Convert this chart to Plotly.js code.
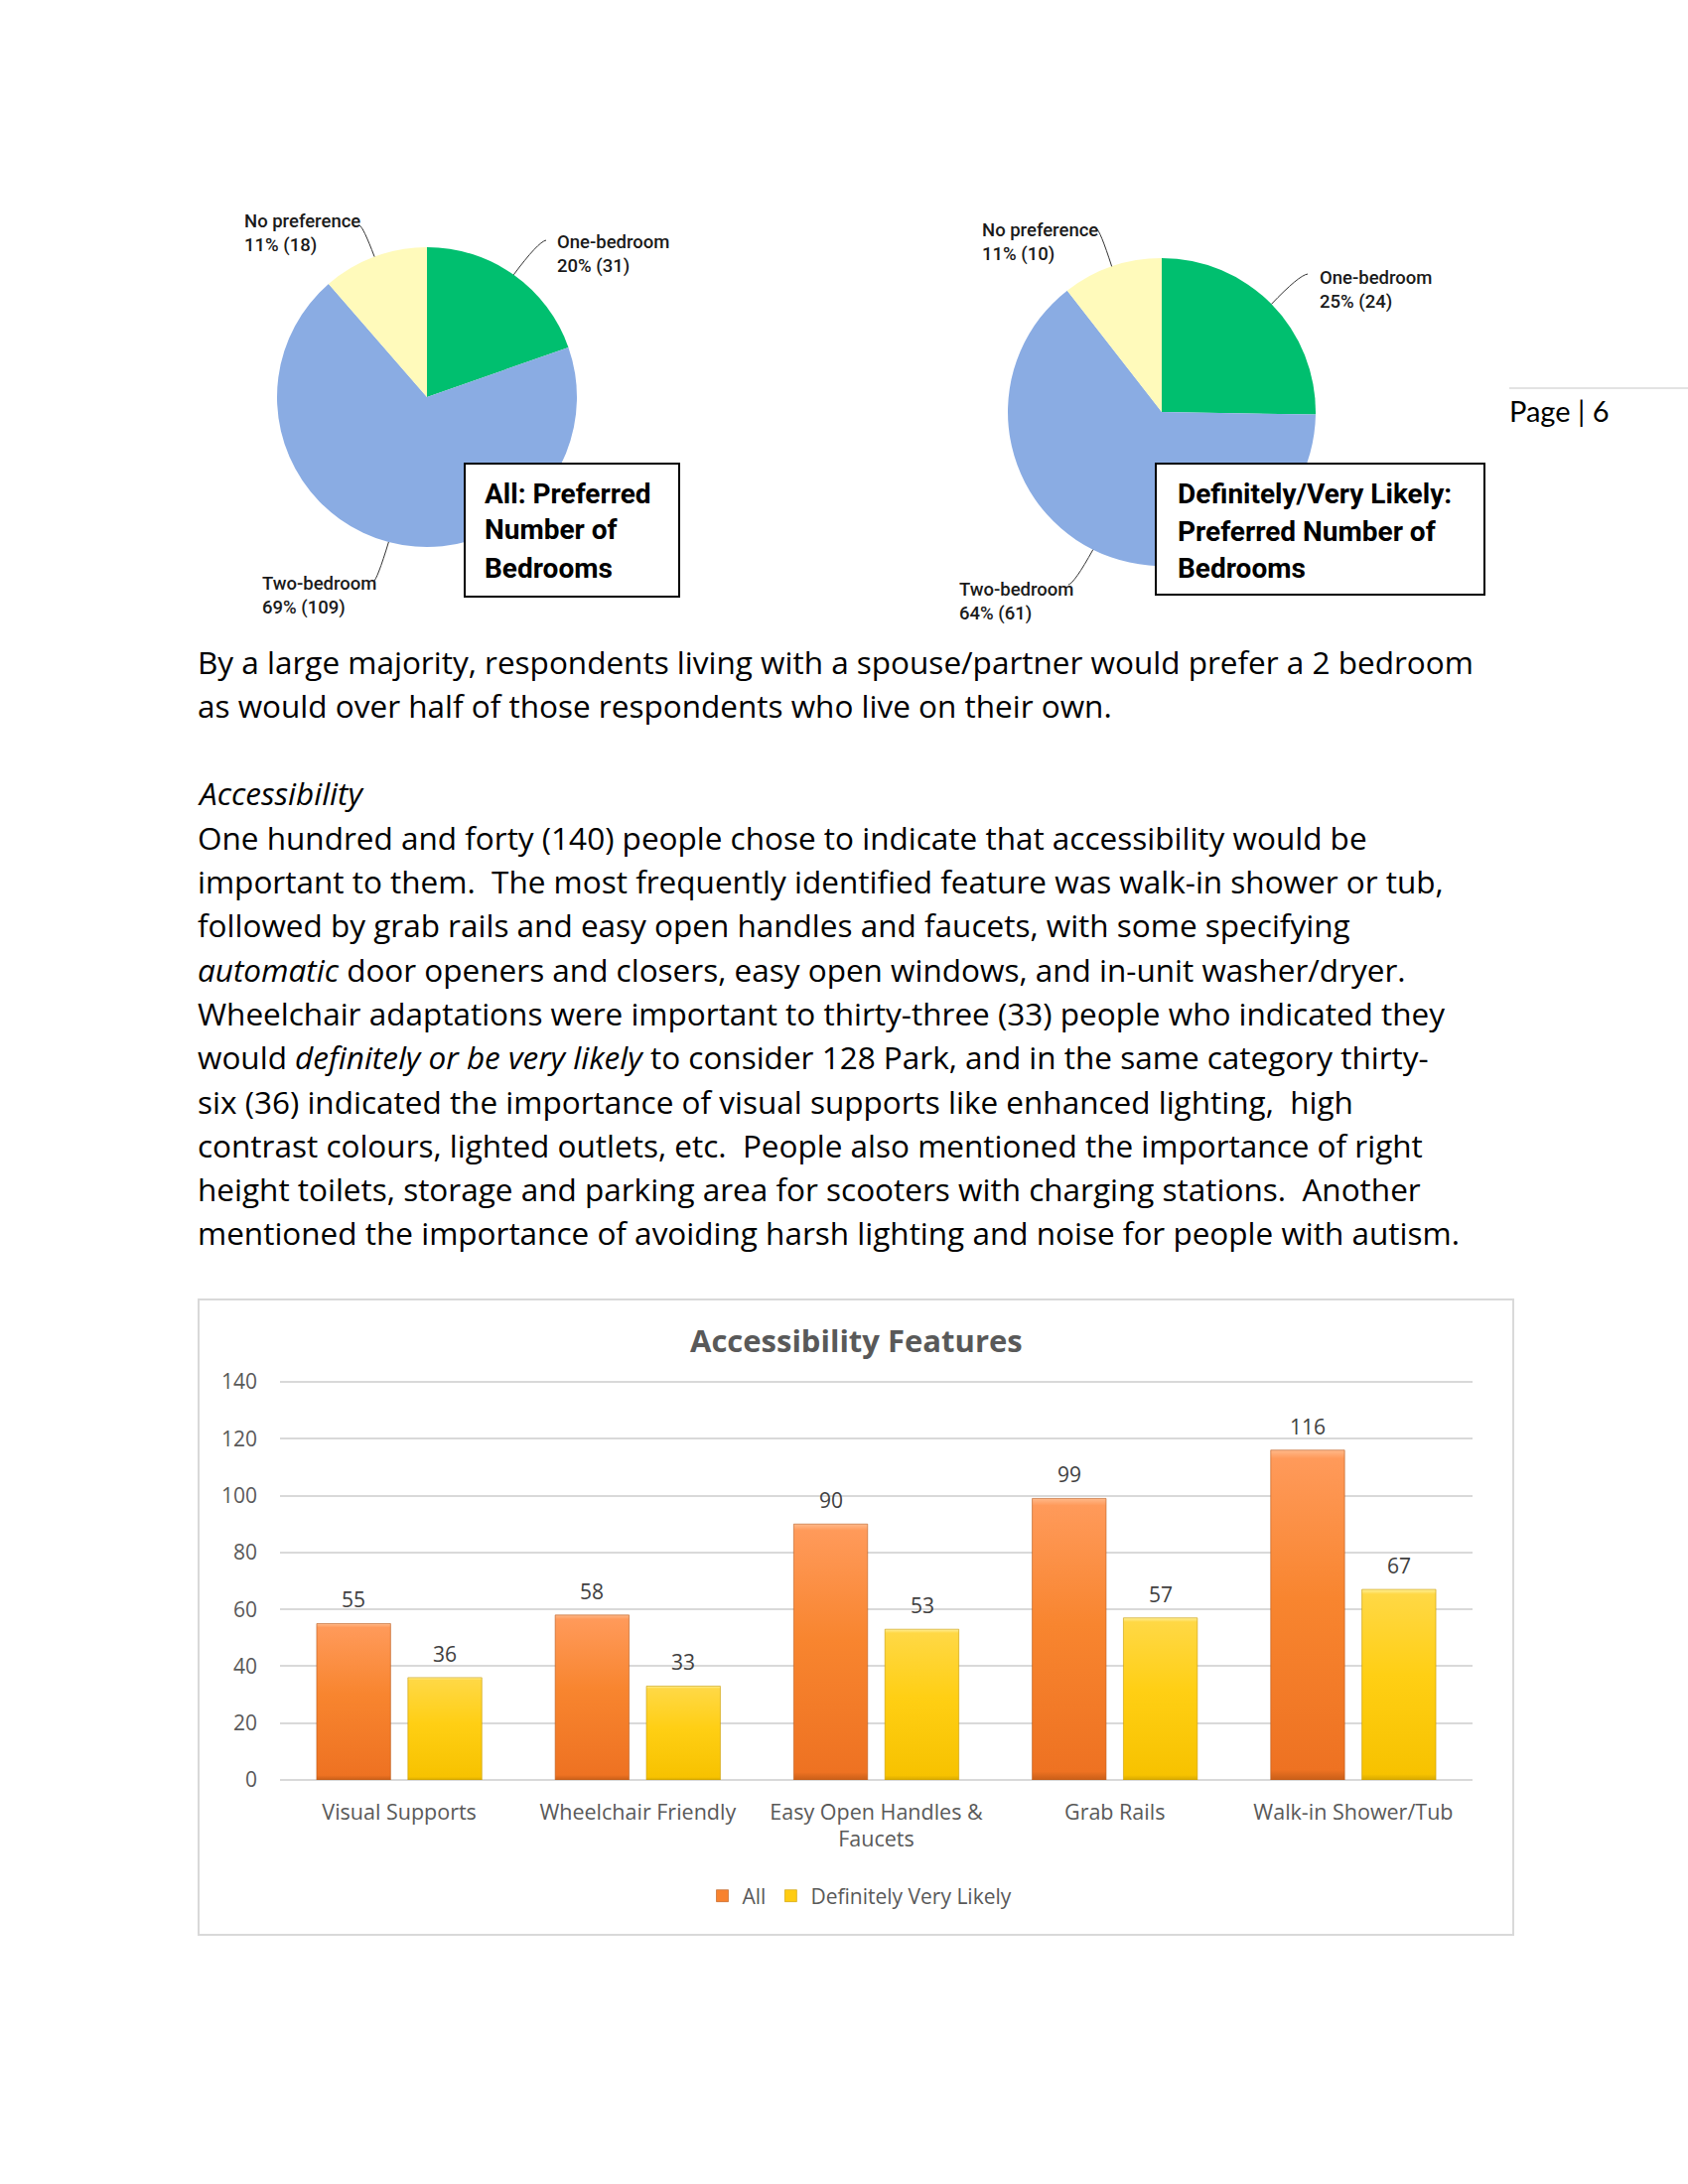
<!DOCTYPE html>
<html>
<head>
<meta charset="utf-8">
<script src="https://cdn.plot.ly/plotly-3.0.1.min.js"></script>
<style>
  html, body { margin: 0; padding: 0; background: #ffffff; }
  #page { width: 1700px; height: 2200px; }
</style>
</head>
<body>
<div id="page"></div>
<script>
// ---------------- DATA ----------------
const pieLabels = ['One-bedroom', 'Two-bedroom', 'No preference'];
const pieAllValues = [31, 109, 18];
const pieLikelyValues = [24, 61, 10];
const pieColors = ['#00BF6F', '#8AACE3', '#FFFABB'];
const pieTitleAll = ['All: Preferred', 'Number of', 'Bedrooms'];
const pieTitleLikely = ['Definitely/Very Likely:', 'Preferred Number of', 'Bedrooms'];

const categories = ['Visual Supports', 'Wheelchair Friendly', 'Easy Open Handles &<br>Faucets', 'Grab Rails', 'Walk-in Shower/Tub'];
const allValues = [55, 58, 90, 99, 116];
const likelyValues = [36, 33, 53, 57, 67];
const seriesNames = ['All', 'Definitely Very Likely'];
const yTickValues = [0, 20, 40, 60, 80, 100, 120, 140];
const barTitle = 'Accessibility Features';

const bodyLines = [
  'By a large majority, respondents living with a spouse/partner would prefer a 2 bedroom',
  'as would over half of those respondents who live on their own.',
  '',
  '<i>Accessibility</i>',
  'One hundred and forty (140) people chose to indicate that accessibility would be',
  'important to them.\u00A0 The most frequently identified feature was walk-in shower or tub,',
  'followed by grab rails and easy open handles and faucets, with some specifying',
  '<i>automatic</i> door openers and closers, easy open windows, and in-unit washer/dryer.',
  'Wheelchair adaptations were important to thirty-three (33) people who indicated they',
  'would <i>definitely or be very likely</i> to consider 128 Park, and in the same category thirty-',
  'six (36) indicated the importance of visual supports like enhanced lighting,\u00A0 high',
  'contrast colours, lighted outlets, etc.\u00A0 People also mentioned the importance of right',
  'height toilets, storage and parking area for scooters with charging stations.\u00A0 Another',
  'mentioned the importance of avoiding harsh lighting and noise for people with autism.'
];
const pageLabel = 'Page | 6';

// ---------------- LAYOUT HELPERS ----------------
const W = 1700, H = 2200;
const px = x => x / W;
const py = y => (H - y) / H;

const pieSpecs = [
  { values: pieAllValues, cx: 430, cy: 400, r: 151,
    labelAt: [[559, 256], [262, 600], [244, 235]],
    leaderEnd: [[550, 242], [376, 586], [362, 227]],
    box: [468, 467, 684, 601], title: pieTitleAll, titleX: 486, titleY: [497, 534, 572] },
  { values: pieLikelyValues, cx: 1170, cy: 415, r: 155,
    labelAt: [[1327, 292], [964, 606], [987, 244]],
    leaderEnd: [[1317, 276], [1076, 589], [1104, 230]],
    box: [1164, 467, 1495, 599], title: pieTitleLikely, titleX: 1184, titleY: [498, 535, 572] }
];

const traces = [];
const annotations = [];
const shapes = [];

const labelFont = { family: 'Roboto, "Liberation Sans", sans-serif', size: 18.5, color: '#1a1a1a', weight: 500 };
const boxFont = { family: 'Roboto, "Liberation Sans", sans-serif', size: 28, color: '#000000', weight: 'bold' };

pieSpecs.forEach(spec => {
  traces.push({
    type: 'pie', values: spec.values, labels: pieLabels, sort: false,
    direction: 'clockwise', rotation: 0, textinfo: 'none', hoverinfo: 'none',
    showlegend: false, marker: { colors: pieColors, line: { width: 0 } },
    domain: { x: [px(spec.cx - spec.r), px(spec.cx + spec.r)], y: [py(spec.cy + spec.r), py(spec.cy - spec.r)] }
  });
  const total = spec.values.reduce((a, b) => a + b, 0);
  let cum = 0;
  spec.values.forEach((v, i) => {
    const theta = 2 * Math.PI * (cum + v / 2) / total;
    cum += v;
    const ex = spec.cx + spec.r * Math.sin(theta);
    const ey = spec.cy - spec.r * Math.cos(theta);
    const [lx, ly] = spec.leaderEnd[i];
    const cxp = ex + 0.75 * (lx - ex), cyp = ey + 0.95 * (ly - ey);
    shapes.push({ type: 'path', xref: 'paper', yref: 'paper',
      path: `M ${px(ex)} ${py(ey)} Q ${px(cxp)} ${py(cyp)} ${px(lx)} ${py(ly)}`,
      line: { color: '#333333', width: 1 } });
    const pct = Math.round(v / total * 100);
    annotations.push({ xref: 'paper', yref: 'paper', x: px(spec.labelAt[i][0]), y: py(spec.labelAt[i][1]),
      xanchor: 'left', yanchor: 'middle', align: 'left', showarrow: false,
      text: `${pieLabels[i]}<br>${pct}% (${v})`, font: labelFont });
  });
  const [bx0, by0, bx1, by1] = spec.box;
  shapes.push({ type: 'rect', xref: 'paper', yref: 'paper', x0: px(bx0), x1: px(bx1), y0: py(by1), y1: py(by0),
    line: { color: '#000000', width: 2 }, fillcolor: '#ffffff', layer: 'above' });
  spec.title.forEach((t, k) => {
    annotations.push({ xref: 'paper', yref: 'paper', x: px(spec.titleX), y: py(spec.titleY[k]),
      xanchor: 'left', yanchor: 'middle', showarrow: false, text: t, font: boxFont });
  });
});

// page number
shapes.push({ type: 'line', xref: 'paper', yref: 'paper', x0: px(1520), x1: px(1700), y0: py(391), y1: py(391),
  line: { color: '#E3E3E3', width: 2 } });
annotations.push({ xref: 'paper', yref: 'paper', x: px(1518), y: py(413), xanchor: 'left', yanchor: 'middle',
  showarrow: false, text: pageLabel, font: { family: 'Lato, "Open Sans", sans-serif', size: 29, color: '#000000' } });

// body text
const bodyFont = { family: '"Open Sans", "Noto Sans", sans-serif', size: 31.5, color: '#000000' };
bodyLines.forEach((t, i) => {
  if (!t) return;
  annotations.push({ xref: 'paper', yref: 'paper', x: px(197), y: py(666 + 44.3 * i), xanchor: 'left', yanchor: 'middle',
    showarrow: false, text: t, font: bodyFont });
});

// bar chart
const chartFont = '"Open Sans", "Noto Sans", sans-serif';
const barColors = ['#F8822E', '#FFCC12'];
[allValues, likelyValues].forEach((vals, s) => {
  traces.push({ type: 'bar', x: categories, y: vals, name: seriesNames[s], xaxis: 'x', yaxis: 'y',
    marker: { color: barColors[s], line: { color: s === 0 ? '#B85A1C' : '#C89B00', width: 0.6 } },
    hoverinfo: 'none' });
  vals.forEach((v, i) => {
    annotations.push({ xref: 'x', yref: 'y', x: categories[i], y: v, xshift: s === 0 ? -46 : 46, yshift: 24,
      yanchor: 'middle', showarrow: false, text: String(v),
      font: { family: chartFont, size: 21, color: '#404040' } });
  });
});
shapes.push({ type: 'rect', xref: 'paper', yref: 'paper', x0: px(200), x1: px(1524), y0: py(1949), y1: py(1309),
  line: { color: '#D9D9D9', width: 2 }, fillcolor: 'rgba(0,0,0,0)', layer: 'below' });
annotations.push({ xref: 'paper', yref: 'paper', x: px(862), y: py(1350), xanchor: 'center', yanchor: 'middle',
  showarrow: false, text: barTitle, font: { family: chartFont, size: 31, color: '#595959', weight: 'bold' } });

const yTop = 140.6;
const layout = {
  width: W, height: H, margin: { l: 0, r: 0, t: 0, b: 0 },
  paper_bgcolor: '#ffffff', plot_bgcolor: 'rgba(0,0,0,0)',
  barmode: 'group', bargap: 0.235, bargroupgap: 0.19,
  xaxis: { domain: [px(282), px(1483)], anchor: 'y', type: 'category', showgrid: false, showline: false, ticks: '',
    zeroline: false, ticklabelstandoff: 17, tickfont: { family: chartFont, size: 21.5, color: '#595959' }, fixedrange: true },
  yaxis: { domain: [py(1793), py(1793 - 401 * yTop / 140)], anchor: 'x', range: [0, yTop], tickvals: yTickValues, ticks: '',
    showline: false, gridcolor: '#D9D9D9', gridwidth: 2, zeroline: true, zerolinecolor: '#D9D9D9', zerolinewidth: 2,
    ticklabelstandoff: 22, tickfont: { family: chartFont, size: 21, color: '#595959' }, fixedrange: true },
  showlegend: true,
  legend: { orientation: 'h', x: px(866), xanchor: 'center', y: py(1910), yanchor: 'middle',
    font: { family: chartFont, size: 21, color: '#595959' }, bgcolor: 'rgba(0,0,0,0)' },
  annotations: annotations, shapes: shapes
};

Plotly.newPlot('page', traces, layout, { displayModeBar: false, staticPlot: true }).then(gd => {
  const svg = gd.querySelector('svg.main-svg');
  let defs = svg.querySelector('defs');
  const ns = 'http://www.w3.org/2000/svg';
  const grads = [
    [[0, '#FFB98A'], [0.025, '#FF9A5A'], [0.45, '#F8852F'], [0.97, '#EE7222'], [1, '#C85E18']],
    [[0, '#FFF09A'], [0.025, '#FFD845'], [0.45, '#FFCF14'], [0.97, '#F7C200'], [1, '#D6A800']]
  ];
  grads.forEach((stops, i) => {
    const g = document.createElementNS(ns, 'linearGradient');
    g.setAttribute('id', 'barGrad' + i);
    g.setAttribute('x1', '0'); g.setAttribute('y1', '0'); g.setAttribute('x2', '0'); g.setAttribute('y2', '1');
    stops.forEach(([o, c]) => {
      const st = document.createElementNS(ns, 'stop');
      st.setAttribute('offset', o); st.setAttribute('stop-color', c);
      g.appendChild(st);
    });
    defs.appendChild(g);
  });
  gd.querySelectorAll('.barlayer .trace').forEach((tr, i) => {
    tr.querySelectorAll('path').forEach(p => { p.style.fill = 'url(#barGrad' + i + ')'; });
  });
});
</script>
</body>
</html>
